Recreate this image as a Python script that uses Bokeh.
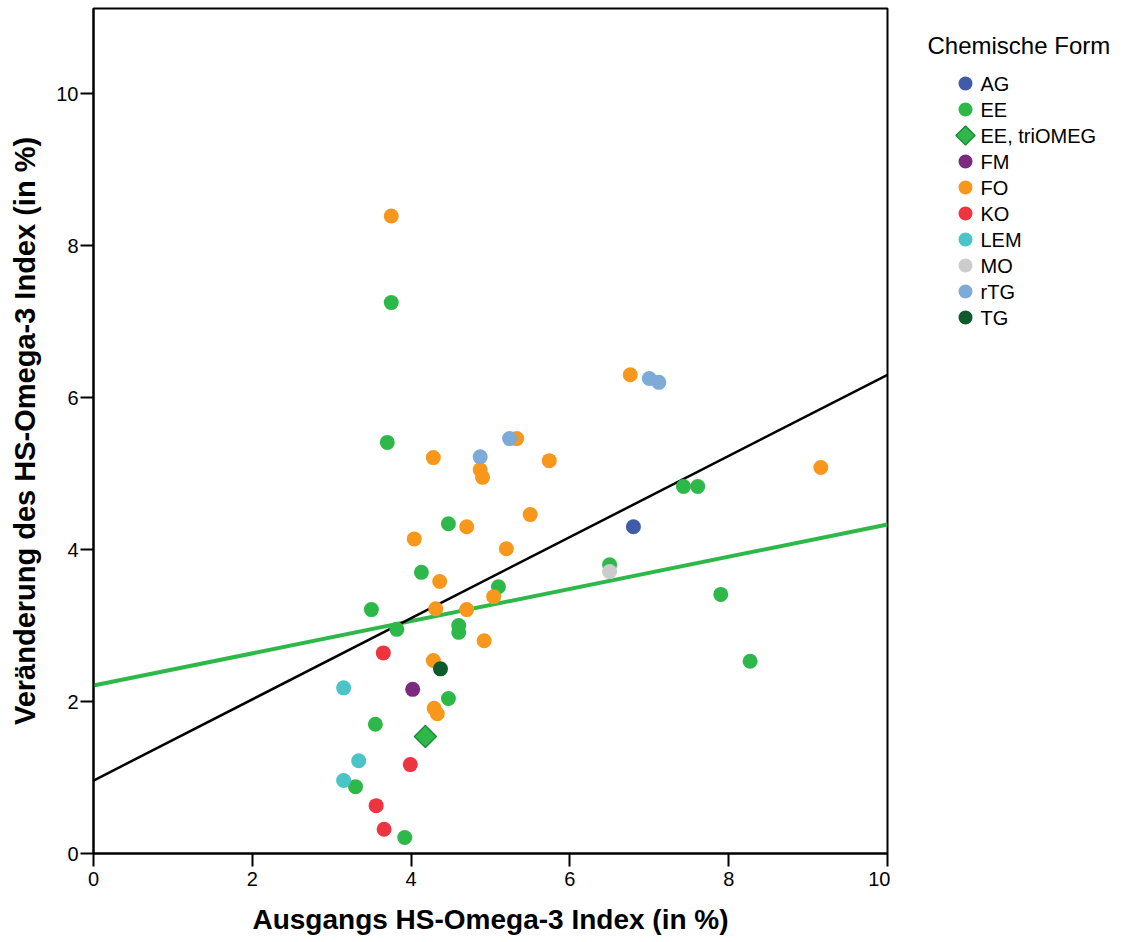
import math
from bokeh.plotting import figure
from bokeh.models import Range1d, FixedTicker, ColumnDataSource
from bokeh.layouts import row
from bokeh.core.properties import value
from bokeh.embed import file_html
from bokeh.resources import INLINE

# Baseline omega-3 index (x) and its change (y), grouped by chemical form
AG_x = [6.80]
AG_y = [4.30]
EE_x = [3.75, 3.70, 4.47, 4.13, 3.50, 3.82, 4.60, 4.60, 5.10, 6.50, 7.43, 7.61, 7.90, 8.27, 4.47, 3.55, 3.30, 3.92]
EE_y = [7.25, 5.41, 4.34, 3.70, 3.21, 2.95, 3.00, 2.91, 3.51, 3.80, 4.83, 4.83, 3.41, 2.53, 2.04, 1.70, 0.88, 0.21]
TRI_x = [4.18]
TRI_y = [1.54]
FM_x = [4.02]
FM_y = [2.16]
FO_x = [3.75, 4.28, 4.87, 4.90, 5.33, 5.74, 6.76, 9.16, 5.50, 4.70, 4.04, 5.20, 4.36, 4.31, 4.70, 5.04, 4.92, 4.28, 4.29, 4.33]
FO_y = [8.39, 5.21, 5.05, 4.95, 5.46, 5.17, 6.30, 5.08, 4.46, 4.30, 4.14, 4.01, 3.58, 3.22, 3.21, 3.38, 2.80, 2.54, 1.91, 1.84]
KO_x = [3.65, 3.99, 3.56, 3.66]
KO_y = [2.64, 1.17, 0.63, 0.32]
LEM_x = [3.15, 3.34, 3.15]
LEM_y = [2.18, 1.22, 0.96]
MO_x = [6.50]
MO_y = [3.71]
RTG_x = [4.87, 5.24, 7.00, 7.12]
RTG_y = [5.22, 5.46, 6.25, 6.20]
TG_x = [4.37]
TG_y = [2.43]

# Linear fits: (intercept, slope) for all samples and for EE only
fit_all = [0.96, 0.534]
fit_ee = [2.21, 0.212]

x_ticks = [0, 2, 4, 6, 8, 10]
y_ticks = [0, 2, 4, 6, 8, 10]

labels = ["AG", "EE", "EE, triOMEG", "FM", "FO", "KO", "LEM", "MO", "rTG", "TG"]
colors = ["#3F5BA9", "#2FB84A", "#2FB84A", "#7B2A80", "#F7981D",
          "#EE3440", "#4BC4C8", "#CCCCCC", "#7DAAD6", "#0C5A2E"]
xs_all = [AG_x, EE_x, TRI_x, FM_x, FO_x, KO_x, LEM_x, MO_x, RTG_x, TG_x]
ys_all = [AG_y, EE_y, TRI_y, FM_y, FO_y, KO_y, LEM_y, MO_y, RTG_y, TG_y]
DIAMOND_EDGE = "#1E8A3A"

FONT = "Liberation Sans"

# ---------------- main scatter plot ----------------
p = figure(width=890, height=942, output_backend="svg", toolbar_location=None,
           x_range=Range1d(0, 10), y_range=Range1d(0, 11.12),
           min_border_left=93, min_border_right=3, min_border_top=8, min_border_bottom=89)

p.xgrid.visible = False
p.ygrid.visible = False
p.outline_line_color = "black"
p.outline_line_width = 2
p.background_fill_color = "white"
p.border_fill_color = "white"

for ax in (p.xaxis, p.yaxis):
    ax.axis_line_color = "black"
    ax.axis_line_width = 2
    ax.major_tick_line_color = "black"
    ax.major_tick_line_width = 2
    ax.major_tick_out = 13
    ax.major_tick_in = 0
    ax.minor_tick_line_color = None
    ax.major_label_text_font = FONT
    ax.major_label_text_font_size = "20px"
    ax.major_label_text_color = "black"
    ax.axis_label_text_font = FONT
    ax.axis_label_text_font_style = "bold"
    ax.axis_label_text_color = "black"

p.xaxis.axis_label_text_font_size = "28px"
p.yaxis.axis_label_text_font_size = "29px"
p.xaxis.ticker = FixedTicker(ticks=x_ticks)
p.yaxis.ticker = FixedTicker(ticks=y_ticks)
p.xaxis.axis_label = "Ausgangs HS-Omega-3 Index (in %)"
p.yaxis.axis_label = "Veränderung des HS-Omega-3 Index (in %)"
p.xaxis.axis_label_standoff = 15
p.yaxis.axis_label_standoff = 12
p.xaxis.major_label_standoff = 5
p.yaxis.major_label_standoff = 2

# Regression lines
line_x = [0, 10]
p.line(line_x, [fit_ee[0] + fit_ee[1] * v for v in line_x], line_color="#2FB84A", line_width=4)
p.line(line_x, [fit_all[0] + fit_all[1] * v for v in line_x], line_color="black", line_width=2.5)

for name, xs, ys, color in zip(labels, xs_all, ys_all, colors):
    src = ColumnDataSource(dict(x=xs, y=ys))
    if name == "EE, triOMEG":
        p.scatter("x", "y", source=src, marker="square", angle=math.pi / 4, size=15.5,
                  fill_color=color, line_color=DIAMOND_EDGE, line_width=1.5)
    else:
        p.scatter("x", "y", source=src, marker="circle", size=15,
                  fill_color=color, line_color=None)

# ---------------- legend panel (pixel coordinates, y down) ----------------
lg = figure(frame_width=233, frame_height=942, output_backend="svg", toolbar_location=None,
            x_range=Range1d(890, 1123), y_range=Range1d(942, 0),
            x_axis_location=None, y_axis_location=None,
            min_border=0, min_border_left=0, min_border_right=0,
            min_border_top=0, min_border_bottom=0)
lg.xgrid.visible = False
lg.ygrid.visible = False
lg.outline_line_color = None
lg.background_fill_color = "white"
lg.border_fill_color = "white"

row_y = [75 + 26 * i for i in range(len(labels))]
marker_x = [965] * len(labels)
text_x = [980] * len(labels)

circle_idx = [i for i, n in enumerate(labels) if n != "EE, triOMEG"]
diamond_idx = [i for i, n in enumerate(labels) if n == "EE, triOMEG"]

lg.scatter([marker_x[i] for i in circle_idx], [row_y[i] for i in circle_idx],
           marker="circle", size=14, fill_color=[colors[i] for i in circle_idx], line_color=None)
lg.scatter([marker_x[i] for i in diamond_idx], [row_y[i] for i in diamond_idx],
           marker="square", angle=math.pi / 4, size=13.5,
           fill_color=[colors[i] for i in diamond_idx], line_color=DIAMOND_EDGE, line_width=1.5)
lg.text(text_x, row_y, text=labels, text_font=value(FONT), text_font_size="20px",
        text_color="black", text_baseline="middle", text_align="left")
lg.text([927], [36.5], text=["Chemische Form"], text_font=value(FONT), text_font_size="24px",
        text_color="black", text_baseline="middle", text_align="left")

layout = row(p, lg, spacing=0)
open("out.html", "w").write(file_html(layout, INLINE))
